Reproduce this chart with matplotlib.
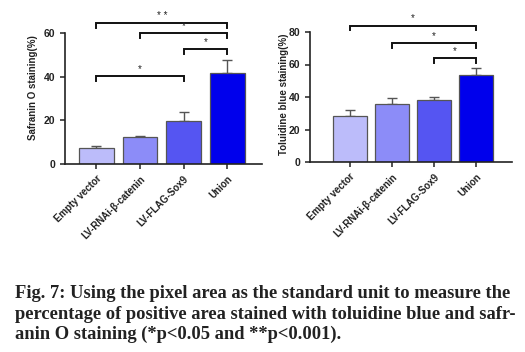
import numpy as np
import matplotlib.pyplot as plt

plt.rcParams["font.family"] = ["Liberation Sans", "DejaVu Sans"]

groups = ["Empty vector", "LV-RNAi-β-catenin", "LV-FLAG-Sox9", "Union"]
colors = ["#bcbcfa", "#8c8cf8", "#5555f2", "#0000ec"]

safranin = [7.5, 12.5, 19.5, 41.5]
safranin_err = [0.6, 0.5, 4.5, 6.0]
safranin_sig = [(0, 3, 64.5, "* *"), (1, 3, 60.0, "*"), (2, 3, 52.7, "*"), (0, 2, 40.3, "*")]

toluidine = [28.5, 36.0, 38.0, 53.5]
toluidine_err = [3.5, 3.5, 2.0, 4.5]
toluidine_sig = [(0, 3, 84.0, "*"), (1, 3, 73.0, "*"), (2, 3, 64.0, "*")]

W, H = 525, 352
fig = plt.figure(figsize=(W / 100, H / 100), dpi=100)


def panel(rect, vals, errs, sigs, ymax, ylabel, xlim, label_xy):
    ax = fig.add_axes(rect)
    x = np.arange(len(vals))
    ax.bar(x, vals, width=0.8, color=colors, edgecolor="#555555", linewidth=0.9, zorder=2)
    ax.errorbar(x, vals, yerr=[np.zeros(len(errs)), errs], fmt="none",
                ecolor="#555555", elinewidth=1.0, capsize=3.5, capthick=1.0, zorder=1)
    ax.set_xlim(*xlim)
    ax.set_ylim(0, ymax)
    ax.set_yticks(np.arange(0, ymax + 1, 20))
    ax.set_xticks(x)
    ax.set_xticklabels(groups, rotation=45, ha="right", rotation_mode="anchor",
                       fontsize=7, fontweight="bold", color="#222222")
    ax.tick_params(axis="y", labelsize=7.5, width=1.1, length=3.5, colors="#222222")
    ax.tick_params(axis="x", width=1.1, length=3.5, colors="#222222")
    for lbl in ax.get_yticklabels():
        lbl.set_fontweight("bold")
    for s in ["top", "right"]:
        ax.spines[s].set_visible(False)
    for s in ["left", "bottom"]:
        ax.spines[s].set_linewidth(1.2)
        ax.spines[s].set_color("#222222")
    ax.set_ylabel(ylabel, fontsize=7, fontweight="bold", color="#222222")
    ax.yaxis.set_label_coords(*label_xy)
    drop = ymax * 0.035
    for a, b, y, star in sigs:
        ax.plot([a, a, b, b], [y - drop, y, y, y - drop], color="#111111",
                linewidth=1.4, clip_on=False, solid_joinstyle="miter")
        ax.text((a + b) / 2, y + ymax * 0.015, star, ha="center", va="bottom",
                fontsize=7, color="#222222", clip_on=False)
    return ax


# label positions in axes fraction: x from pixel column, y from label centre
panel([65 / W, (H - 164) / H, 197 / W, 131 / H], safranin, safranin_err, safranin_sig,
      60, "Safranin O staining(%)", (-0.72, 3.8), ((38 - 65) / 197, (164 - 88) / 131))
panel([310 / W, (H - 162) / H, 202 / W, 130 / H], toluidine, toluidine_err, toluidine_sig,
      80, "Toluidine blue staining(%)", (-0.95, 3.86), ((289 - 310) / 202, (162 - 94) / 130))

caption = ("Fig. 7: Using the pixel area as the standard unit to measure the\n"
           "percentage of positive area stained with toluidine blue and safr-\n"
           "anin O staining (*p<0.05 and **p<0.001).")
fig.text(15 / W, 1 - 285 / H, caption, ha="left", va="top", fontsize=13.3,
         fontweight="bold", family="Liberation Serif", color="#222222", linespacing=1.27)

fig.savefig("out.png", dpi=100)
